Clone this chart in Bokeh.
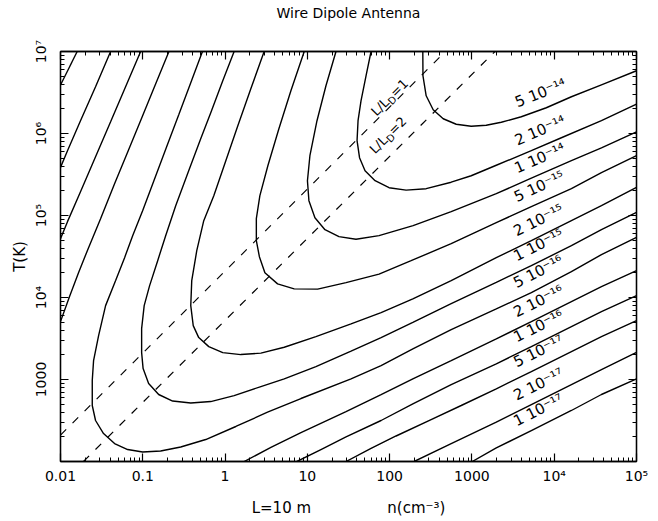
import math
import numpy as np
from bokeh.plotting import figure
from bokeh.models import LogAxis, FixedTicker, CustomJSTickFormatter, Range1d
from bokeh.embed import file_html
from bokeh.resources import INLINE
from bokeh.core.properties import value

FONT = "DejaVu Sans"

# ---------------- texts ----------------
title_text = "Wire Dipole Antenna"
x_title = "L=10 m" + "\u00a0" * 16 + "n(cm\u207b\u00b3)"
y_title = "T(K)"
x_decades = [-2, -1, 0, 1, 2, 3, 4, 5]
x_tick_labels = ["0.01", "0.1", "1", "10", "100", "1000", "10\u2074", "10\u2075"]
y_decades = [2, 3, 4, 5, 6, 7]
y_tick_labels = ["", "1000", "10\u2074", "10\u2075", "10\u2076", "10\u2077"]

level_labels = ["5 10⁻¹⁴", "2 10⁻¹⁴", "1 10⁻¹⁴", "5 10⁻¹⁵", "2 10⁻¹⁵", "1 10⁻¹⁵",
                "5 10⁻¹⁶", "2 10⁻¹⁶", "1 10⁻¹⁶", "5 10⁻¹⁷", "2 10⁻¹⁷", "1 10⁻¹⁷"]

# ---------------- contour lines (log10 n [cm^-3], log10 T [K]) ----------------
c5e14_logn = [2.403, 2.405, 2.444, 2.529, 2.651, 2.809, 2.991, 3.174, 3.357, 3.600, 3.904, 4.209, 4.574, 5.0]
c5e14_logT = [7.0, 6.704, 6.460, 6.289, 6.180, 6.113, 6.088, 6.101, 6.137, 6.204, 6.314, 6.448, 6.594, 6.765]

c2e14_logn = [1.774, 1.713, 1.652, 1.616, 1.604, 1.634, 1.701, 1.823, 1.993, 2.200, 2.444, 2.748, 2.991,
              3.296, 3.722, 4.087, 4.574, 5.0]
c2e14_logT = [7.0, 6.704, 6.399, 6.156, 5.912, 5.705, 5.546, 5.424, 5.339, 5.309, 5.327, 5.406, 5.485,
              5.613, 5.790, 5.948, 6.156, 6.359]

c1e14_logn = [1.348, 1.226, 1.117, 1.031, 1.001, 1.019, 1.092, 1.214, 1.384, 1.591, 1.871, 2.285, 2.748,
              3.296, 3.722, 4.209, 4.574, 5.0]
c1e14_logT = [7.0, 6.582, 6.156, 5.729, 5.424, 5.181, 4.973, 4.827, 4.742, 4.711, 4.754, 4.876, 5.047,
              5.266, 5.455, 5.668, 5.826, 6.021]

c5e15_logn = [0.962, 0.800, 0.654, 0.520, 0.423, 0.380, 0.380, 0.417, 0.484, 0.638, 0.840, 1.125, 1.470,
              1.871, 2.261, 2.748, 3.296, 3.722, 4.209, 4.574, 5.0]
c5e15_logT = [7.0, 6.521, 6.058, 5.607, 5.242, 4.961, 4.693, 4.498, 4.303, 4.166, 4.105, 4.102, 4.181,
              4.285, 4.449, 4.657, 4.913, 5.108, 5.327, 5.522, 5.729]

c2e15_logn = [0.475, 0.313, 0.155, 0.009, -0.137, -0.259, -0.344, -0.405, -0.417, -0.387, -0.320, -0.198,
              -0.028, 0.191, 0.435, 0.719, 1.104, 1.531, 1.896, 2.282, 2.748, 3.296, 3.722, 4.209, 4.574, 5.0]
c2e15_logT = [7.0, 6.545, 6.095, 5.668, 5.242, 4.937, 4.571, 4.206, 3.901, 3.657, 3.511, 3.401,
              3.328, 3.304, 3.322, 3.393, 3.523, 3.678, 3.816, 3.983, 4.206, 4.486, 4.693, 4.937, 5.120, 5.343]

c1e15_logn = [0.110, -0.028, -0.174, -0.296, -0.442, -0.600, -0.722, -0.819, -0.917, -0.983, -1.014, -1.014,
              -0.996, -0.929, -0.807, -0.637, -0.417, -0.174, 0.110, 0.435, 0.719, 1.104, 1.531, 1.896,
              2.282, 2.748, 3.296, 3.722, 4.209, 4.574, 5.0]
c1e15_logT = [7.0, 6.643, 6.253, 5.936, 5.546, 5.120, 4.754, 4.449, 4.145, 3.901, 3.621, 3.328,
              3.133, 2.951, 2.817, 2.737, 2.713, 2.731, 2.804, 2.914, 3.008, 3.158, 3.347, 3.511,
              3.698, 3.925, 4.185, 4.389, 4.632, 4.827, 5.038]

c5e16_logn = [-0.275, -0.417, -0.563, -0.710, -0.856, -1.002, -1.123, -1.221, -1.330, -1.452, -1.537,
              -1.598, -1.614, -1.614, -1.574, -1.477, -1.343, -1.184, -1.002, -0.783, -0.539, -0.235,
              0.131, 0.516, 0.922, 1.531, 1.896, 2.282, 2.748, 3.296, 3.722, 4.209, 4.574, 5.0]
c5e16_logT = [7.0, 6.619, 6.229, 5.839, 5.449, 5.059, 4.754, 4.486, 4.206, 3.901, 3.536,
              3.231, 2.987, 2.683, 2.500, 2.341, 2.219, 2.146, 2.116, 2.128, 2.177, 2.268,
              2.427, 2.601, 2.768, 3.008, 3.170, 3.373, 3.609, 3.861, 4.060, 4.315, 4.523, 4.733]

c2e16_left_logn = [-0.682, -0.843, -1.002, -1.172, -1.343, -1.513, -1.659, -1.781, -1.890, -2.0]
c2e16_left_logT = [7.0, 6.606, 6.216, 5.802, 5.388, 4.961, 4.608, 4.303, 4.011, 3.706]
c2e16_right_logn = [0.232, 0.557, 0.922, 1.470, 1.896, 2.282, 2.748, 3.296, 3.722, 4.209, 4.574, 5.0]
c2e16_right_logT = [2.0, 2.171, 2.353, 2.609, 2.817, 3.008, 3.231, 3.495, 3.706, 3.950, 4.133, 4.328]

c1e16_left_logn = [-1.026, -1.209, -1.391, -1.574, -1.757, -1.915, -2.0]
c1e16_left_logT = [7.0, 6.570, 6.143, 5.717, 5.290, 4.925, 4.718]
c1e16_right_logn = [0.873, 1.165, 1.470, 1.896, 2.282, 2.748, 3.296, 3.722, 4.209, 4.574, 5.0]
c1e16_right_logT = [2.0, 2.146, 2.299, 2.500, 2.703, 2.938, 3.191, 3.401, 3.645, 3.828, 4.023]

c5e17_left_logn = [-1.391, -1.574, -1.757, -1.915, -2.0]
c5e17_left_logT = [7.0, 6.570, 6.156, 5.790, 5.586]
c5e17_right_logn = [1.470, 1.774, 2.078, 2.504, 2.870, 3.296, 3.722, 4.209, 4.574, 5.0]
c5e17_right_logT = [2.0, 2.159, 2.311, 2.512, 2.683, 2.886, 3.097, 3.341, 3.523, 3.718]

c2e17_left_logn = [-1.797, -2.0]
c2e17_left_logT = [7.0, 6.591]
c2e17_right_logn = [2.298, 2.748, 3.296, 3.722, 4.209, 4.574, 5.0]
c2e17_right_logT = [2.0, 2.219, 2.479, 2.695, 2.938, 3.121, 3.332]

c1e17_right_logn = [3.004, 3.296, 3.722, 4.209, 4.574, 5.0]
c1e17_right_logT = [2.0, 2.165, 2.378, 2.622, 2.817, 3.008]

# L / L_D = 1 and 2 lines (n in cm^-3, T in K)
ld1_n = [0.01, 476.0]
ld1_T = [210.0, 1.0e7]
ld2_n = [0.019, 1905.0]
ld2_T = [100.0, 1.0e7]

contours = [
    [(c5e14_logn, c5e14_logT)],
    [(c2e14_logn, c2e14_logT)],
    [(c1e14_logn, c1e14_logT)],
    [(c5e15_logn, c5e15_logT)],
    [(c2e15_logn, c2e15_logT)],
    [(c1e15_logn, c1e15_logT)],
    [(c5e16_logn, c5e16_logT)],
    [(c2e16_left_logn, c2e16_left_logT), (c2e16_right_logn, c2e16_right_logT)],
    [(c1e16_left_logn, c1e16_left_logT), (c1e16_right_logn, c1e16_right_logT)],
    [(c5e17_left_logn, c5e17_left_logT), (c5e17_right_logn, c5e17_right_logT)],
    [(c2e17_left_logn, c2e17_left_logT), (c2e17_right_logn, c2e17_right_logT)],
    [(c1e17_right_logn, c1e17_right_logT)],
]

# ---------------- figure ----------------
FRAME_W, FRAME_H = 576, 410
PX_X = FRAME_W / 7.0   # pixels per decade
PX_Y = FRAME_H / 5.0

p = figure(frame_width=FRAME_W, frame_height=FRAME_H, x_axis_type="log", y_axis_type="log",
           x_range=Range1d(0.01, 1e5), y_range=Range1d(100, 1e7), title=None,
           output_backend="svg", toolbar_location=None,
           min_border_left=60, min_border_right=14, min_border_top=51, min_border_bottom=56)
p.background_fill_color = "white"
p.border_fill_color = "white"
p.grid.visible = False
p.outline_line_color = "black"
p.outline_line_width = 1.3

x_major = [10.0 ** e for e in x_decades]
x_minor = [k * 10.0 ** e for e in x_decades[:-1] for k in range(2, 10)]
y_major = [10.0 ** e for e in y_decades]
y_minor = [k * 10.0 ** e for e in y_decades[:-1] for k in range(2, 10)]

fmt_code = "const e = Math.round(Math.log10(tick)); const s = labels[e - e0]; return (s === undefined) ? '' : s;"
x_fmt = CustomJSTickFormatter(args=dict(labels=x_tick_labels, e0=x_decades[0]), code=fmt_code)
y_fmt = CustomJSTickFormatter(args=dict(labels=y_tick_labels, e0=y_decades[0]), code=fmt_code)
blank = "return '';"


def style_axis(ax):
    ax.axis_line_color = "black"
    ax.axis_line_width = 1.3
    ax.major_tick_line_color = "black"
    ax.minor_tick_line_color = "black"
    ax.major_tick_line_width = 1.2
    ax.minor_tick_line_width = 1.0
    ax.major_tick_in = 8
    ax.major_tick_out = 0
    ax.minor_tick_in = 4
    ax.minor_tick_out = 0
    ax.major_label_text_font = FONT
    ax.major_label_text_font_size = "14px"
    ax.major_label_text_color = "black"
    ax.axis_label_text_font = FONT
    ax.axis_label_text_font_size = "15px"
    ax.axis_label_text_font_style = "normal"
    ax.axis_label_text_color = "black"


xa = p.xaxis[0]
xa.ticker = FixedTicker(ticks=x_major, minor_ticks=x_minor)
xa.formatter = x_fmt
style_axis(xa)
xa.major_label_standoff = 6
xa.axis_label = x_title
xa.axis_label_standoff = 12

ya = p.yaxis[0]
ya.ticker = FixedTicker(ticks=y_major, minor_ticks=y_minor)
ya.formatter = y_fmt
style_axis(ya)
ya.major_label_orientation = "vertical"
ya.major_label_standoff = 12
ya.axis_label = y_title
ya.axis_label_standoff = 1

# top axis: ticks only, its axis label carries the chart title
top = LogAxis(ticker=FixedTicker(ticks=x_major, minor_ticks=x_minor),
              formatter=CustomJSTickFormatter(code=blank))
style_axis(top)
top.major_label_text_font_size = "0px"
top.major_label_standoff = 0
top.axis_label = title_text
top.axis_label_text_font_size = "14px"
top.axis_label_standoff = 31
p.add_layout(top, "above")

right = LogAxis(ticker=FixedTicker(ticks=y_major, minor_ticks=y_minor),
                formatter=CustomJSTickFormatter(code=blank))
style_axis(right)
right.major_label_text_font_size = "0px"
right.major_label_standoff = 0
p.add_layout(right, "right")

# ---------------- contour lines ----------------
xs, ys = [], []
for branches in contours:
    for ln, lt in branches:
        xs.append(list(10.0 ** np.array(ln)))
        ys.append(list(10.0 ** np.array(lt)))
p.multi_line(xs, ys, line_color="black", line_width=1.4)

# ---------------- contour labels (sitting on the right-hand branches) ----------------
lx, ly, la = [], [], []
for branches in contours:
    ln, lt = branches[-1]
    ln = np.array(ln)
    lt = np.array(lt)
    m = ln >= 3.0
    a0, a1 = 3.60, 4.30
    t0 = float(np.interp(a0, ln[m], lt[m]))
    t1 = float(np.interp(a1, ln[m], lt[m]))
    th = math.atan2((t1 - t0) * PX_Y, (a1 - a0) * PX_X)
    up = 6.0
    lx.append(10 ** (a0 - math.sin(th) * up / PX_X))
    ly.append(10 ** (t0 + math.cos(th) * up / PX_Y))
    la.append(th)
p.text(x=lx, y=ly, text=level_labels, angle=la, text_font=value(FONT), text_font_size="15px",
       text_align="left", text_baseline="bottom", text_color="black")

# ---------------- L/L_D lines ----------------
p.line(ld1_n, ld1_T, line_color="black", line_width=1.2, line_dash="8 9")
p.line(ld2_n, ld2_T, line_color="black", line_width=1.2, line_dash="8 9")


def ratio_label(center_logn, center_logT, number):
    th = math.atan2((math.log10(ld1_T[1]) - math.log10(ld1_T[0])) * PX_Y,
                    (math.log10(ld1_n[1]) - math.log10(ld1_n[0])) * PX_X)
    pieces = [("L/L", "13px", 18.9, 0.0), ("D", "10px", 7.7, 4.0), ("=" + number, "13px", 19.2, 0.0)]
    total = sum(pc[2] for pc in pieces)
    s = -total / 2.0
    for txt, size, w, down in pieces:
        dx = s * math.cos(th) + down * math.sin(th)
        dy_down = -s * math.sin(th) + down * math.cos(th)
        p.text(x=[10 ** (center_logn + dx / PX_X)], y=[10 ** (center_logT - dy_down / PX_Y)],
               text=[txt], angle=th, text_font=value(FONT), text_font_size=size,
               text_align="left", text_baseline="middle", text_color="black")
        s += w


ratio_label(2.0, 6.44, "1")
ratio_label(1.98, 5.98, "2")

open("out.html", "w").write(file_html(p, INLINE))
